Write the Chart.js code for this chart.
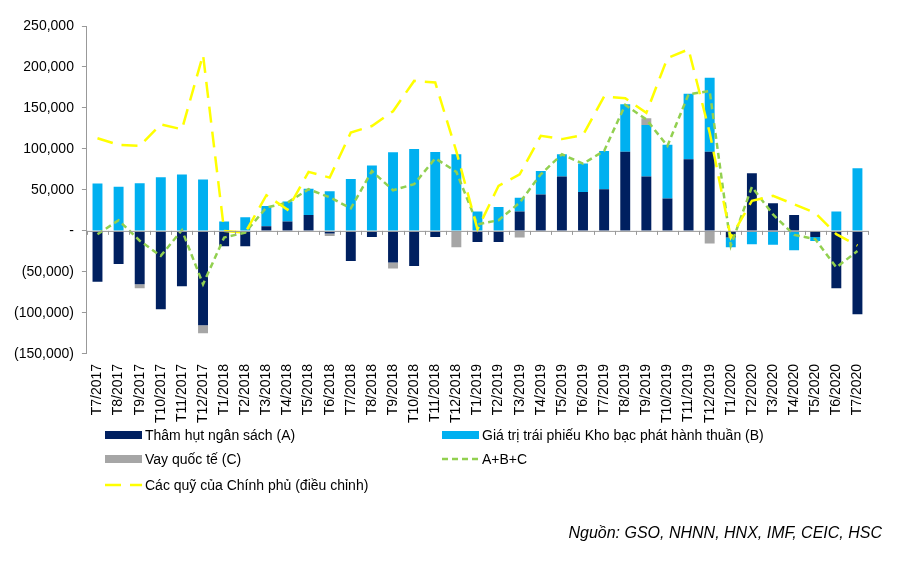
<!DOCTYPE html>
<html>
<head>
<meta charset="utf-8">
<script src="https://cdn.jsdelivr.net/npm/chart.js@4.4.1/dist/chart.umd.min.js"></script>
<style>
  body { margin: 0; background: #fff; font-family: "Liberation Sans", Arial, sans-serif; }
  #wrap { position: relative; width: 908px; height: 565px; }
  #legend { position: absolute; left: 0; top: 0; width: 908px; height: 565px; pointer-events: none; }
  .item { position: absolute; font-size: 14px; color: #000; display: flex; align-items: center; white-space: nowrap; }
  .item svg { margin-right: 3px; }
  #source { position: absolute; right: 26px; top: 524px; font-size: 16px; font-style: italic; color: #000; }
</style>
</head>
<body>
<div id="wrap">
  <canvas id="fundChart" width="908" height="565"></canvas>
  <div id="legend"></div>
  <div id="source">Nguồn: GSO, NHNN, HNX, IMF, CEIC, HSC</div>
</div>
<script>
const months = ['T7/2017', 'T8/2017', 'T9/2017', 'T10/2017', 'T11/2017', 'T12/2017',
  'T1/2018', 'T2/2018', 'T3/2018', 'T4/2018', 'T5/2018', 'T6/2018', 'T7/2018', 'T8/2018', 'T9/2018', 'T10/2018', 'T11/2018', 'T12/2018',
  'T1/2019', 'T2/2019', 'T3/2019', 'T4/2019', 'T5/2019', 'T6/2019', 'T7/2019', 'T8/2019', 'T9/2019', 'T10/2019', 'T11/2019', 'T12/2019',
  'T1/2020', 'T2/2020', 'T3/2020', 'T4/2020', 'T5/2020', 'T6/2020', 'T7/2020'];

// Thâm hụt ngân sách (A)
const deficitA = [-62000, -40500, -65000, -95500, -67500, -115000,
  -18700, -18700, 5700, 11400, 19500, -3300, -36600, -7300, -38600, -42700, -7300, 0,
  -13400, -13400, 23600, 44300, 66300, 47600, 50800, 96700, 66300, 39400, 87400, 96700,
  -8000, 70300, 33700, 19500, -7300, -70000, -101600];

// Giá trị trái phiếu Kho bạc phát hành thuần (B)
const bondsB = [57700, 54000, 58000, 65400, 68700, 62600,
  11400, 16700, 24800, 24400, 32000, 48400, 63400, 79700, 96000, 100000, 96300, 93500,
  23600, 29300, 17000, 28700, 27200, 34500, 46800, 57800, 63000, 65600, 80000, 90300,
  -12000, -16300, -17000, -23600, -5000, 23600, 76400];

// Vay quốc tế (C)
const loansC = [0, 0, -5000, 0, 0, -10000,
  0, 0, 0, 0, 0, -3000, 0, 0, -7300, 0, 0, -20000,
  0, 0, -8000, 0, 0, 0, 0, 0, 8000, 0, 0, -15400,
  0, 0, 0, 0, 0, 0, 0];

// A+B+C
const totalABC = [-4000, 13000, -12000, -30500, 1000, -65000,
  -8000, -2000, 28500, 34500, 50800, 41000, 27600, 73000, 49600, 57000, 88600, 72000,
  8000, 13000, 34500, 69000, 93500, 82000, 97600, 153700, 136000, 103700, 166700, 170700,
  -18000, 53700, 20000, -4900, -10000, -44700, -24400];

// Các quỹ của Chính phủ (điều chỉnh)
const govFunds = [113000, 105000, 103700, 130000, 124000, 215000,
  0, -2000, 43500, 26000, 72000, 65000, 120000, 128000, 146000, 183000, 181000, 97000,
  2000, 55000, 69000, 116000, 112000, 117000, 164000, 161800, 144000, 211000, 221500, 120000,
  -8000, 36600, 42700, 32500, 22000, -4000, -18000];

const yTicks = [-150000, -100000, -50000, 0, 50000, 100000, 150000, 200000, 250000];

const NAVY = '#002060', BLUE = '#00B0F0', GREY = '#A6A6A6', GREEN = '#92D050', YELLOW = '#FFFF00';
const FONT = '"Liberation Sans", Arial, sans-serif';

function fmt(v) {
  if (v === 0) return '-';
  const s = Math.abs(v).toLocaleString('en-US');
  return v < 0 ? '(' + s + ')' : s;
}

// small tick marks on the zero line between categories
const zeroTicks = {
  id: 'zeroTicks',
  afterDatasetsDraw(chart) {
    const x = chart.scales.x, y = chart.scales.y, c = chart.ctx;
    const y0 = y.getPixelForValue(0);
    c.save();
    c.strokeStyle = '#999';
    c.lineWidth = 1;
    c.beginPath();
    c.moveTo(x.left, y0 + 0.5);
    c.lineTo(x.right, y0 + 0.5);
    for (let i = 0; i <= months.length; i++) {
      const px = Math.round(x.left + (x.right - x.left) * i / months.length) + 0.5;
      c.moveTo(px, y0);
      c.lineTo(px, y0 + 4);
    }
    c.stroke();
    c.restore();
  }
};

const barOpts = { barPercentage: 0.47, categoryPercentage: 1, stack: 'bars', order: 2, borderWidth: 0 };

new Chart(document.getElementById('fundChart'), {
  type: 'bar',
  data: {
    labels: months,
    datasets: [
      Object.assign({ label: 'Thâm hụt ngân sách (A)', data: deficitA, backgroundColor: NAVY }, barOpts),
      Object.assign({ label: 'Giá trị trái phiếu Kho bạc phát hành thuần (B)', data: bondsB, backgroundColor: BLUE }, barOpts),
      Object.assign({ label: 'Vay quốc tế (C)', data: loansC, backgroundColor: GREY }, barOpts),
      {
        type: 'line', label: 'A+B+C', data: totalABC, stack: 'abc', order: 1,
        borderColor: GREEN, borderWidth: 2.5, borderDash: [6, 4], pointRadius: 0, tension: 0, fill: false
      },
      {
        type: 'line', label: 'Các quỹ của Chính phủ (điều chỉnh)', data: govFunds, stack: 'funds', order: 0,
        borderColor: YELLOW, borderWidth: 2.5, borderDash: [16, 9], pointRadius: 0, tension: 0, fill: false
      }
    ]
  },
  options: {
    responsive: false,
    animation: false,
    layout: { padding: { top: 26, left: 6, right: 40, bottom: 140 } },
    plugins: { legend: { display: false }, tooltip: { enabled: false } },
    scales: {
      x: {
        stacked: true,
        grid: { display: false },
        border: { display: false },
        ticks: { color: '#000', font: { family: FONT, size: 14 }, maxRotation: 90, minRotation: 90, autoSkip: false, padding: 2 }
      },
      y: {
        stacked: true,
        min: -150000, max: 250000,
        afterBuildTicks(axis) { axis.ticks = yTicks.map(v => ({ value: v })); },
        grid: { drawOnChartArea: false, tickLength: 5, color: '#999' },
        border: { display: true, color: '#999' },
        ticks: { color: '#000', font: { family: FONT, size: 14 }, padding: 8, callback: v => fmt(v) }
      }
    }
  },
  plugins: [zeroTicks]
});

// legend built as html, two columns like the reference
const legendItems = [
  { text: 'Thâm hụt ngân sách (A)', kind: 'box', color: NAVY, x: 105, y: 436 },
  { text: 'Giá trị trái phiếu Kho bạc phát hành thuần (B)', kind: 'box', color: BLUE, x: 442, y: 436 },
  { text: 'Vay quốc tế (C)', kind: 'box', color: GREY, x: 105, y: 460 },
  { text: 'A+B+C', kind: 'dash', color: GREEN, dash: '6,4', x: 442, y: 460 },
  { text: 'Các quỹ của Chính phủ (điều chỉnh)', kind: 'dash', color: YELLOW, dash: '16,9', x: 105, y: 486 }
];
const legend = document.getElementById('legend');
legendItems.forEach(it => {
  const d = document.createElement('div');
  d.className = 'item';
  d.style.left = it.x + 'px';
  d.style.top = (it.y - 9) + 'px';
  const sw = it.kind === 'box'
    ? `<svg width="37" height="10"><rect x="0" y="1" width="37" height="8" fill="${it.color}"/></svg>`
    : `<svg width="37" height="10"><line x1="0" y1="5" x2="37" y2="5" stroke="${it.color}" stroke-width="2.5" stroke-dasharray="${it.dash}"/></svg>`;
  d.innerHTML = sw + '<span>' + it.text + '</span>';
  legend.appendChild(d);
});
</script>
</body>
</html>
